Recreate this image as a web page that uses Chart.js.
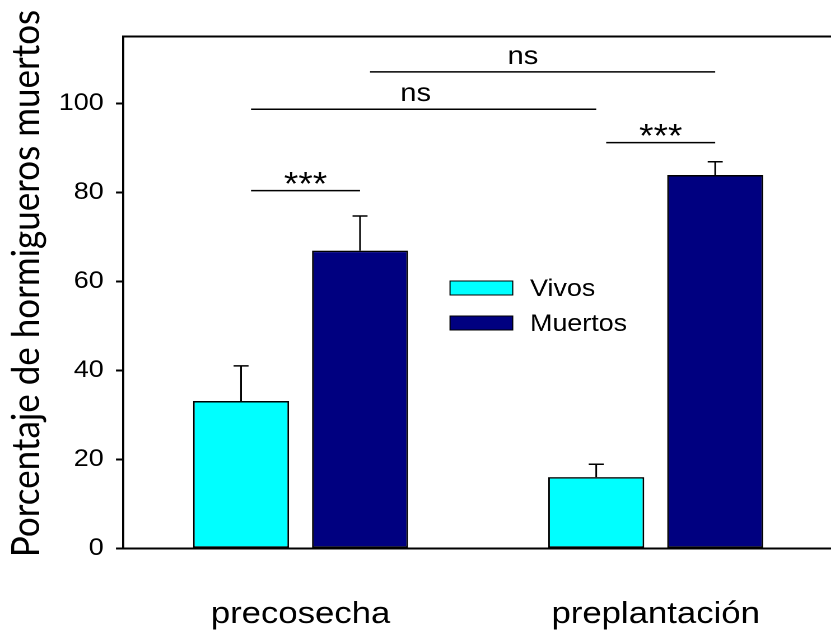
<!DOCTYPE html>
<html>
<head>
<meta charset="utf-8">
<script src="https://cdn.jsdelivr.net/npm/chart.js@4/dist/chart.umd.min.js"></script>
<style>
  html, body { margin: 0; padding: 0; overflow: hidden; background: #fff; width: 831px; height: 635px; }
  #wrap { position: absolute; left: 0; top: 0; width: 744px; height: 635px; transform: scaleX(1.12); transform-origin: 0 0; }
</style>
</head>
<body>
<div id="wrap"><canvas id="c"></canvas></div>
<script>
// ---- data ----
const categories = ['precosecha', 'preplantación'];
const seriesNames = ['Vivos', 'Muertos'];
const vivos = [33.1, 16.0];
const muertos = [66.9, 83.9];
const vivosErr = [7.9, 2.9];
const muertosErr = [7.8, 3.0];
const yTicks = [0, 20, 40, 60, 80, 100];
const yTitle = 'Porcentaje de hormigueros muertos';
// significance brackets: [category, series] endpoints, level in data units
const sigFrom = [[0, 0], [1, 0], [0, 0], [0, 1]];
const sigTo = [[0, 1], [1, 1], [1, 0], [1, 1]];
const sigLevels = [80.4, 91.2, 98.7, 107.1];
const sigLabels = ['***', '***', 'ns', 'ns'];

// ---- styles ----
const FONT = '"Liberation Sans", Arial, sans-serif';
const colors = ['#00FFFF', '#000080'];
const sigTextPos = [0.5, 0.5, 0.477, 0.443];

const errors = [vivosErr, muertosErr];

const errorBarPlugin = {
  id: 'errorBars',
  afterDatasetsDraw(chart) {
    const ctx = chart.ctx;
    const ys = chart.scales.y;
    ctx.save();
    ctx.strokeStyle = '#000';
    ctx.lineWidth = 1.5;
    chart.data.datasets.forEach((ds, i) => {
      const meta = chart.getDatasetMeta(i);
      meta.data.forEach((bar, j) => {
        const top = ys.getPixelForValue(ds.data[j] + errors[i][j]);
        const cap = 6.7;
        ctx.beginPath();
        ctx.moveTo(bar.x, bar.y);
        ctx.lineTo(bar.x, top);
        ctx.moveTo(bar.x - cap, top);
        ctx.lineTo(bar.x + cap, top);
        ctx.stroke();
      });
    });
    ctx.restore();
  }
};

const sigPlugin = {
  id: 'sig',
  afterDraw(chart) {
    const ctx = chart.ctx;
    const ys = chart.scales.y;
    ctx.save();
    ctx.strokeStyle = '#000';
    ctx.fillStyle = '#000';
    ctx.lineWidth = 1.5;
    sigLevels.forEach((lv, k) => {
      const a = chart.getDatasetMeta(sigFrom[k][1]).data[sigFrom[k][0]];
      const b = chart.getDatasetMeta(sigTo[k][1]).data[sigTo[k][0]];
      const x1 = a.x + 8.9, x2 = b.x;
      const y = ys.getPixelForValue(lv);
      ctx.beginPath();
      ctx.moveTo(x1, y);
      ctx.lineTo(x2, y);
      ctx.stroke();
      const isStar = sigLabels[k] === '***';
      ctx.font = (isStar ? '33px ' : '26px ') + FONT;
      ctx.textAlign = 'center';
      ctx.textBaseline = 'alphabetic';
      const tx = x1 + (x2 - x1) * sigTextPos[k];
      ctx.fillText(sigLabels[k], tx, isStar ? y + 4.5 : y - 8);
    });
    ctx.restore();
  }
};

const legendPlugin = {
  id: 'customLegend',
  afterDraw(chart) {
    const ctx = chart.ctx;
    const ca = chart.chartArea;
    const x0 = ca.left + 292;
    const y0 = ca.top + 251.3;
    const sw = 56, sh = 14, rowGap = 35;
    ctx.save();
    chart.data.datasets.forEach((ds, i) => {
      const cy = y0 + i * rowGap;
      ctx.fillStyle = ds.backgroundColor;
      ctx.fillRect(x0, cy - sh / 2, sw, sh);
      ctx.strokeStyle = '#000';
      ctx.lineWidth = 1;
      ctx.strokeRect(x0, cy - sh / 2, sw, sh);
      ctx.fillStyle = '#000';
      ctx.font = '24px ' + FONT;
      ctx.textAlign = 'left';
      ctx.textBaseline = 'middle';
      ctx.fillText(ds.label, x0 + sw + 15.4, cy + 1.5);
    });
    ctx.restore();
  }
};

const yTitlePlugin = {
  id: 'yTitle',
  afterDraw(chart) {
    const ctx = chart.ctx;
    const ca = chart.chartArea;
    ctx.save();
    ctx.translate(23.5, (ca.top + ca.bottom) / 2 - 9);
    ctx.rotate(-Math.PI / 2);
    ctx.fillStyle = '#000';
    ctx.font = '35px Lato';
    ctx.textAlign = 'center';
    ctx.textBaseline = 'middle';
    ctx.fillText(yTitle, 0, 0);
    ctx.restore();
  }
};

new Chart(document.getElementById('c'), {
  type: 'bar',
  data: {
    labels: categories,
    datasets: [
      { label: seriesNames[0], data: vivos, backgroundColor: colors[0], borderColor: '#000', borderWidth: 1.5, borderSkipped: false },
      { label: seriesNames[1], data: muertos, backgroundColor: colors[1], borderColor: '#000', borderWidth: 1.5, borderSkipped: false }
    ]
  },
  options: {
    responsive: true,
    maintainAspectRatio: false,
    animation: false,
    devicePixelRatio: 2,
    categoryPercentage: 0.67,
    barPercentage: 0.807,
    layout: { padding: { top: 36.7, left: 0, right: 0, bottom: 0 } },
    plugins: { legend: { display: false }, tooltip: { enabled: false } },
    scales: {
      x: {
        position: 'bottom',
        grid: { display: false, drawTicks: false },
        border: { display: true, color: '#000', width: 2 },
        ticks: { color: '#000', font: { family: FONT, size: 31 }, padding: 47.4 },
        afterFit(s) { s.height = 86.7; }
      },
      x2: {
        type: 'category',
        labels: categories,
        position: 'top',
        grid: { display: false, drawTicks: false },
        border: { display: true, color: '#000', width: 2 },
        ticks: { display: false },
        afterFit(s) { s.height = 0; }
      },
      y: {
        min: 0,
        max: 115,
        grid: { drawOnChartArea: false, drawTicks: true, tickLength: 6.25, tickWidth: 2, tickColor: '#000' },
        border: { display: true, color: '#000', width: 2 },
        ticks: { color: '#000', font: { family: FONT, size: 24 }, padding: 11 },
        afterBuildTicks(s) { s.ticks = yTicks.map(v => ({ value: v })); },
        title: { display: false, text: yTitle },
        afterFit(s) { s.width = 109.8; }
      }
    }
  },
  plugins: [errorBarPlugin, sigPlugin, legendPlugin, yTitlePlugin]
});
</script>
</body>
</html>
